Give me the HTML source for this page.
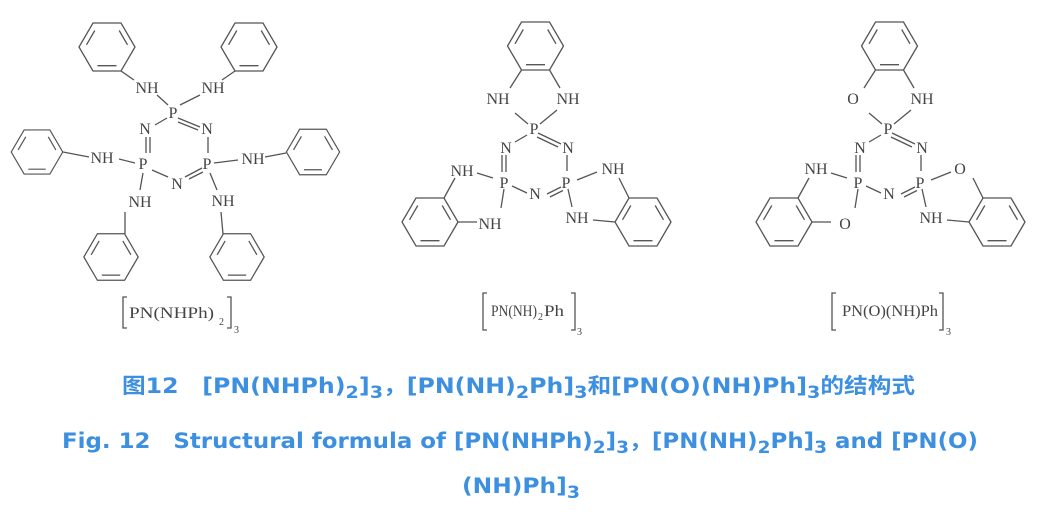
<!DOCTYPE html>
<html><head><meta charset="utf-8"><style>
html,body{margin:0;padding:0;background:#fff;}
svg{display:block;}
.b line,.b polyline{stroke:#555;stroke-width:1.3;fill:none;}
.a{font-family:"Liberation Serif",serif;font-size:16px;fill:#444;text-anchor:middle;}
.l{font-family:"Liberation Serif",serif;font-size:16px;fill:#444;}
.c{font-family:"DejaVu Sans","Noto Sans CJK SC",sans-serif;font-weight:bold;font-size:21px;fill:#3d8fe0;}
</style></head><body>
<svg width="1040" height="516" viewBox="0 0 1040 516" xmlns="http://www.w3.org/2000/svg">
<defs>
<g id="bz" class="b">
<polygon points="28,0 14,24 -14,24 -28,0 -14,-24 14,-24" style="stroke:#555;stroke-width:1.3;fill:none"/>
<line x1="-20.5" y1="-2.2" x2="-12.2" y2="-16.5"/>
<line x1="20.5" y1="-2.2" x2="12.2" y2="-16.5"/>
<line x1="-9.5" y1="18.7" x2="9.5" y2="18.7"/>
</g>
<g id="core" class="b">
<use href="#bz" transform="translate(535.5,46)"/>
<use href="#bz" transform="translate(430,222)"/>
<use href="#bz" transform="translate(643,222)"/>
<line x1="521.5" y1="70" x2="510" y2="88"/>
<line x1="549.5" y1="70" x2="560" y2="88"/>
<line x1="515" y1="113" x2="528" y2="124"/>
<line x1="540" y1="124" x2="557" y2="110"/>
<line x1="527" y1="135" x2="515" y2="142"/>
<line x1="538" y1="133" x2="561" y2="144"/>
<line x1="537" y1="137" x2="558" y2="147"/>
<line x1="567" y1="155" x2="567" y2="171"/>
<line x1="561" y1="187" x2="547" y2="194"/>
<line x1="563" y1="190.5" x2="550" y2="197"/>
<line x1="527" y1="193" x2="512" y2="186"/>
<line x1="502" y1="155" x2="502" y2="172"/>
<line x1="506" y1="155" x2="506" y2="172"/>
<line x1="477" y1="173" x2="493" y2="178"/>
<line x1="504" y1="189" x2="501" y2="208"/>
<line x1="577" y1="180" x2="597" y2="172"/>
<line x1="568" y1="189" x2="572" y2="207"/>
<line x1="444" y1="198" x2="455" y2="178"/>
<line x1="458" y1="222" x2="477" y2="222"/>
<line x1="629" y1="198" x2="619" y2="178"/>
<line x1="593" y1="220" x2="615" y2="222"/>
</g>
</defs>

<!-- Structure 1 -->
<g class="b">
<use href="#bz" transform="translate(107,47)"/>
<use href="#bz" transform="translate(249,47)"/>
<use href="#bz" transform="translate(37,152) scale(0.92)"/>
<use href="#bz" transform="translate(313,152) scale(0.95)"/>
<use href="#bz" transform="translate(111,257) scale(0.97)"/>
<use href="#bz" transform="translate(237,257) scale(0.97)"/>
<line x1="121" y1="71" x2="134" y2="80"/>
<line x1="235" y1="71" x2="222" y2="80"/>
<line x1="63" y1="152" x2="89" y2="157"/>
<line x1="265" y1="157" x2="286" y2="153"/>
<line x1="125" y1="212" x2="125" y2="234"/>
<line x1="221" y1="212" x2="223" y2="234"/>
<line x1="157" y1="95" x2="168" y2="105"/>
<line x1="180" y1="105" x2="200" y2="95"/>
<line x1="167" y1="118" x2="155" y2="125"/>
<line x1="178" y1="118" x2="200" y2="127"/>
<line x1="178" y1="122" x2="198" y2="130"/>
<line x1="208" y1="137" x2="208" y2="153"/>
<line x1="202" y1="168" x2="185" y2="177"/>
<line x1="203" y1="172" x2="189" y2="179"/>
<line x1="168" y1="177" x2="152" y2="170"/>
<line x1="146" y1="137" x2="146" y2="153"/>
<line x1="150" y1="137" x2="150" y2="153"/>
<line x1="119" y1="159" x2="135" y2="163"/>
<line x1="143" y1="173" x2="140" y2="190"/>
<line x1="214" y1="163" x2="238" y2="160"/>
<line x1="210" y1="173" x2="217" y2="190"/>
<!-- brackets -->
<polyline points="127,297 123,297 123,328 127,328"/>
<polyline points="227,297 231,297 231,328 227,328"/>
<polyline points="487,293 483,293 483,330 487,330"/>
<polyline points="571,293 575,293 575,330 571,330"/>
<polyline points="836,293 832,293 832,330 836,330"/>
<polyline points="939,293 943,293 943,330 939,330"/>
</g>
<g class="a">
<text x="173" y="118">P</text><text x="145" y="134">N</text><text x="207" y="134">N</text>
<text x="143" y="169">P</text><text x="207" y="169">P</text><text x="177" y="189">N</text>
<text x="147" y="93">NH</text><text x="213" y="93">NH</text>
<text x="102" y="163">NH</text><text x="253" y="164">NH</text>
<text x="140" y="207">NH</text><text x="223" y="206">NH</text>
</g>
<g class="l">
<text x="129" y="318" textLength="85" lengthAdjust="spacingAndGlyphs">PN(NHPh)</text>
<text x="219" y="325" style="font-size:10px">2</text>
<text x="234" y="333" style="font-size:10px">3</text>
</g>

<!-- Structure 2 -->
<use href="#core"/>
<g class="a">
<text x="534" y="134">P</text><text x="506" y="153">N</text><text x="568" y="153">N</text>
<text x="504" y="188">P</text><text x="566" y="188">P</text><text x="535" y="199">N</text>
<text x="498" y="104">NH</text><text x="568" y="104">NH</text>
<text x="462" y="176">NH</text><text x="490" y="229">NH</text>
<text x="613" y="174">NH</text><text x="577" y="223">NH</text>
</g>
<g class="l">
<text x="491" y="316" textLength="46" lengthAdjust="spacingAndGlyphs">PN(NH)</text>
<text x="538" y="320" style="font-size:10px">2</text>
<text x="544" y="316" textLength="20" lengthAdjust="spacingAndGlyphs">Ph</text>
<text x="577" y="335" style="font-size:10px">3</text>
</g>

<!-- Structure 3 -->
<use href="#core" transform="translate(354,0)"/>
<g class="a">
<text x="888" y="134">P</text><text x="860" y="153">N</text><text x="922" y="153">N</text>
<text x="858" y="188">P</text><text x="920" y="188">P</text><text x="889" y="199">N</text>
<text x="853" y="104">O</text><text x="922" y="104">NH</text>
<text x="816" y="174">NH</text><text x="845" y="229">O</text>
<text x="960" y="174">O</text><text x="931" y="223">NH</text>
</g>
<g class="l">
<text x="842" y="316" textLength="96" lengthAdjust="spacingAndGlyphs">PN(O)(NH)Ph</text>
<text x="946" y="335" style="font-size:10px">3</text>
</g>

<!-- Captions -->
<text class="c" x="122" y="393" textLength="793" lengthAdjust="spacingAndGlyphs">图12　[PN(NHPh)<tspan dy="5" style="font-size:17px">2</tspan><tspan dy="-5">]</tspan><tspan dy="5" style="font-size:17px">3</tspan><tspan dy="-5">，[PN(NH)</tspan><tspan dy="5" style="font-size:17px">2</tspan><tspan dy="-5">Ph]</tspan><tspan dy="5" style="font-size:17px">3</tspan><tspan dy="-5">和[PN(O)(NH)Ph]</tspan><tspan dy="5" style="font-size:17px">3</tspan><tspan dy="-5">的结构式</tspan></text>
<text class="c" x="62" y="448" textLength="916" lengthAdjust="spacingAndGlyphs">Fig. 12　Structural formula of [PN(NHPh)<tspan dy="5" style="font-size:17px">2</tspan><tspan dy="-5">]</tspan><tspan dy="5" style="font-size:17px">3</tspan><tspan dy="-5">，[PN(NH)</tspan><tspan dy="5" style="font-size:17px">2</tspan><tspan dy="-5">Ph]</tspan><tspan dy="5" style="font-size:17px">3</tspan><tspan dy="-5"> and [PN(O)</tspan></text>
<text class="c" x="462" y="493" textLength="118" lengthAdjust="spacingAndGlyphs">(NH)Ph]<tspan dy="5" style="font-size:17px">3</tspan></text>
</svg>
</body></html>
